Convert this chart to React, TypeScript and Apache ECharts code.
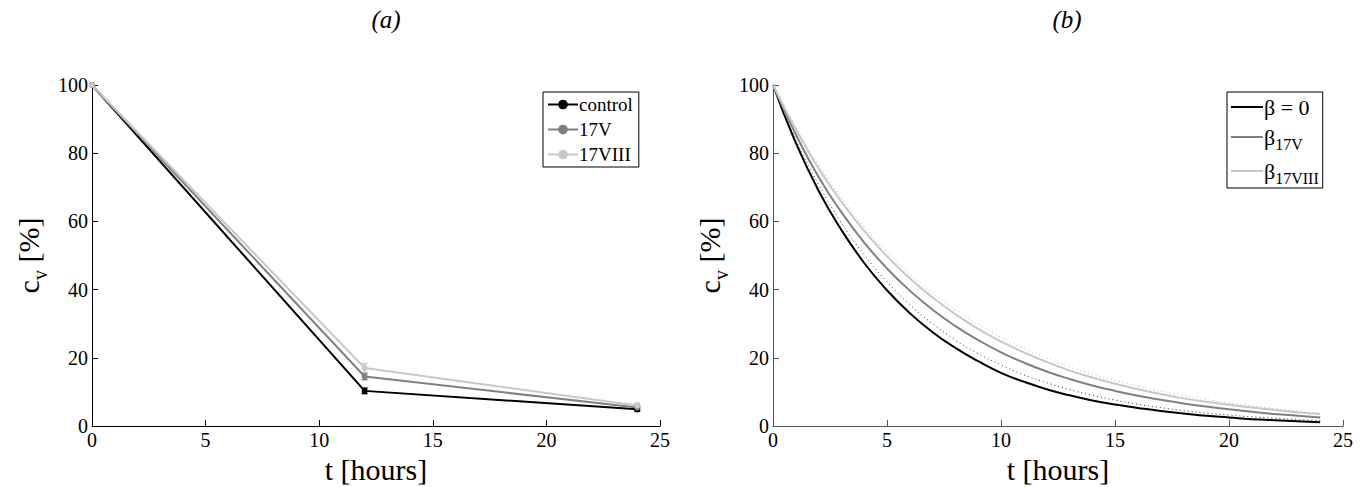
import React, { useEffect, useRef } from "react";
import * as echarts from "echarts";

// ---- Panel (a): measured data ----
const T_MEAS = [0, 12, 24];
const CONTROL = [100, 10.3, 4.9];
const V17 = [100, 14.5, 5.4];
const VIII17 = [100, 17.0, 6.0];
const CONTROL_ERR = [0, 0.8, 0.6];
const V17_ERR = [0, 0.9, 0.6];
const VIII17_ERR = [0, 1.3, 0.7];

// ---- Panel (b): model curves ----
const T_MODEL = [0, 1, 2, 3, 4, 5, 6, 7, 8, 9, 10, 11, 12, 13, 14, 15, 16, 17, 18, 19, 20, 21, 22, 23, 24];
const BETA0 = [100, 83, 69, 57.5, 47.8, 39.8, 33.1, 27.5, 22.9, 19.0, 15.6, 13.0, 10.8, 9.0, 7.5, 6.3, 5.3, 4.4, 3.7, 3.0, 2.5, 2.0, 1.7, 1.4, 1.1];
const BETA17V = [100, 85.5, 73, 62.7, 53.8, 46.2, 39.7, 34.1, 29.3, 25.2, 21.6, 18.6, 16.0, 13.8, 11.9, 10.3, 8.9, 7.7, 6.6, 5.7, 4.9, 4.2, 3.5, 3.0, 2.5];
const BETA17VIII = [100, 87, 75.5, 65.8, 57.2, 49.8, 43.3, 37.7, 32.8, 28.5, 24.8, 21.6, 18.8, 16.3, 14.2, 12.4, 10.8, 9.4, 8.1, 7.1, 6.2, 5.4, 4.7, 4.0, 3.5];
const DOT_DARK = [100, 84, 70.8, 59.6, 50.2, 42.3, 35.6, 30.0, 25.2, 21.2, 17.9, 15.0, 12.7, 10.7, 9.0, 7.6, 6.4, 5.4, 4.5, 3.8, 3.2, 2.7, 2.3, 1.9, 1.6];
const DOT_LIGHT = [100, 87.6, 76.5, 66.9, 58.4, 51.0, 44.6, 39.0, 34.1, 29.8, 26.0, 22.8, 19.9, 17.4, 15.2, 13.4, 11.7, 10.2, 8.9, 7.8, 6.8, 5.9, 5.1, 4.4, 3.8];

const X_TICKS = { min: 0, max: 25, interval: 5 };
const Y_TICKS = { min: 0, max: 100, interval: 20 };

const FONT = "Liberation Serif";
const C_BLACK = "#000000";
const C_GRAY = "#808080";
const C_LIGHT = "#c8c8c8";

function pairs(xs: number[], ys: number[]) {
  return xs.map((x, i) => [x, ys[i]]);
}

function errData(xs: number[], ys: number[], es: number[]) {
  return xs.map((x, i) => [x, ys[i] - es[i], ys[i] + es[i]]).filter((_, i) => es[i] > 0);
}

function errSeries(name: string, color: string, data: number[][]) {
  return {
    type: "custom",
    name,
    xAxisIndex: 0,
    yAxisIndex: 0,
    data,
    z: 3,
    renderItem: (params: any, api: any) => {
      const x = api.value(0);
      const lo = api.coord([x, api.value(1)]);
      const hi = api.coord([x, api.value(2)]);
      const w = 3;
      return {
        type: "group",
        children: [
          { type: "line", shape: { x1: lo[0], y1: lo[1], x2: hi[0], y2: hi[1] }, style: { stroke: color, lineWidth: 1.5 } },
          { type: "line", shape: { x1: lo[0] - w, y1: lo[1], x2: lo[0] + w, y2: lo[1] }, style: { stroke: color, lineWidth: 1.5 } },
          { type: "line", shape: { x1: hi[0] - w, y1: hi[1], x2: hi[0] + w, y2: hi[1] }, style: { stroke: color, lineWidth: 1.5 } },
        ],
      };
    },
  };
}

function makeXAxis(gridIndex: number, axisColor: string) {
  return {
    type: "value",
    gridIndex,
    ...X_TICKS,
    name: "t [hours]",
    nameLocation: "middle",
    nameGap: 23,
    nameTextStyle: { fontFamily: FONT, fontSize: 30, color: "#000" },
    axisLine: { show: true, onZero: false, lineStyle: { color: axisColor, width: 1 } },
    axisTick: { show: true, inside: true, length: 6, lineStyle: { color: axisColor } },
    axisLabel: { fontFamily: FONT, fontSize: 20, color: "#000", margin: 4 },
    splitLine: { show: false },
  };
}

function makeYAxis(gridIndex: number, axisColor: string) {
  return {
    type: "value",
    gridIndex,
    ...Y_TICKS,
    name: "{c|c}{v|v}{c| [%]}",
    nameLocation: "middle",
    nameRotate: 90,
    nameGap: 42,
    nameTextStyle: {
      fontFamily: FONT,
      color: "#000",
      rich: {
        c: { fontFamily: FONT, fontSize: 30, lineHeight: 44, color: "#000" },
        v: { fontFamily: FONT, fontSize: 20, lineHeight: 10, verticalAlign: "bottom", color: "#000" },
      },
    },
    axisLine: { show: true, onZero: false, lineStyle: { color: axisColor, width: 1 } },
    axisTick: { show: true, inside: true, length: 6, lineStyle: { color: axisColor } },
    axisLabel: { fontFamily: FONT, fontSize: 20, color: "#000", margin: 4 },
    splitLine: { show: false },
  };
}

const LEGEND_B_LABELS: Record<string, string> = {
  "β = 0": "{b|β = 0}",
  "β17V": "{b|β}{s|17V}",
  "β17VIII": "{b|β}{s|17VIII}",
};

export default function App() {
  const ref = useRef<HTMLDivElement>(null);

  useEffect(() => {
    if (!ref.current) return;
    const chart = echarts.init(ref.current, undefined, { renderer: "svg" });

    const measLine = (name: string, ys: number[], color: string) => ({
      type: "line",
      name,
      xAxisIndex: 0,
      yAxisIndex: 0,
      data: pairs(T_MEAS, ys),
      symbol: "circle",
      symbolSize: 6,
      showSymbol: true,
      lineStyle: { color, width: 2 },
      itemStyle: { color },
      z: 4,
    });

    const modelLine = (name: string, ys: number[], color: string, dotted = false) => ({
      type: "line",
      name,
      xAxisIndex: 1,
      yAxisIndex: 1,
      data: pairs(T_MODEL, ys),
      symbol: "none",
      smooth: true,
      lineStyle: dotted ? { color, width: 1, type: [1, 3] } : { color, width: 2 },
      itemStyle: { color },
      z: dotted ? 2 : 3,
    });

    const titleStyle = { fontFamily: FONT, fontStyle: "italic", fontWeight: "normal", fontSize: 25, color: "#000" };

    const option: any = {
      animation: false,
      backgroundColor: "#ffffff",
      title: [
        { text: "(a)", left: 381, top: 2, textAlign: "center", textStyle: titleStyle },
        { text: "(b)", left: 1062, top: 2, textAlign: "center", textStyle: titleStyle },
      ],
      grid: [
        { left: 92, top: 85, width: 568, height: 341, containLabel: false, outerBoundsMode: "none" },
        { left: 773, top: 85, width: 570, height: 341, containLabel: false, outerBoundsMode: "none" },
      ],
      xAxis: [makeXAxis(0, "#000"), makeXAxis(1, "#555")],
      yAxis: [makeYAxis(0, "#000"), makeYAxis(1, "#555")],
      legend: [
        {
          data: ["control", "17V", "17VIII"],
          orient: "vertical",
          left: 543,
          top: 92,
          itemWidth: 30,
          itemHeight: 12,
          itemGap: 6,
          padding: [3, 6, 3, 4],
          borderColor: "#000",
          borderWidth: 1,
          backgroundColor: "#fff",
          textStyle: { fontFamily: FONT, fontSize: 19, color: "#000", padding: [0, 0, 0, -4] },
        },
        {
          data: ["β = 0", "β17V", "β17VIII"],
          orient: "vertical",
          left: 1227,
          top: 92,
          icon: "rect",
          itemWidth: 32,
          itemHeight: 2,
          itemGap: 8,
          padding: [4, 4, 2, 4],
          borderColor: "#000",
          borderWidth: 1,
          backgroundColor: "#fff",
          formatter: (n: string) => LEGEND_B_LABELS[n] || n,
          textStyle: {
            fontFamily: FONT,
            fontSize: 22,
            color: "#000",
            padding: [0, 0, 0, -4],
            rich: {
              b: { fontFamily: FONT, fontSize: 22, lineHeight: 30, color: "#000" },
              s: { fontFamily: FONT, fontSize: 16, lineHeight: 6, verticalAlign: "bottom", color: "#000" },
            },
          },
        },
      ],
      series: [
        measLine("control", CONTROL, C_BLACK),
        measLine("17V", V17, C_GRAY),
        measLine("17VIII", VIII17, C_LIGHT),
        errSeries("errControl", C_BLACK, errData(T_MEAS, CONTROL, CONTROL_ERR)),
        errSeries("err17V", C_GRAY, errData(T_MEAS, V17, V17_ERR)),
        errSeries("err17VIII", C_LIGHT, errData(T_MEAS, VIII17, VIII17_ERR)),
        modelLine("β = 0", BETA0, C_BLACK),
        modelLine("β17V", BETA17V, C_GRAY),
        modelLine("β17VIII", BETA17VIII, C_LIGHT),
        modelLine("dotDark", DOT_DARK, "#333333", true),
        modelLine("dotLight", DOT_LIGHT, "#b4b4b4", true),
      ],
    };

    chart.setOption(option);
    return () => chart.dispose();
  }, []);

  return (
    <div
      ref={ref}
      style={{ position: "absolute", left: 0, top: 0, width: 1367, height: 487, background: "#fff" }}
    />
  );
}
